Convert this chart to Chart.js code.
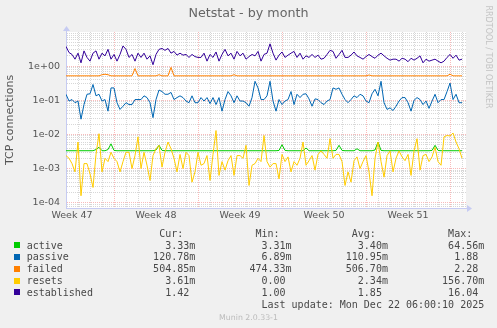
<!DOCTYPE html>
<html>
<head>
<meta charset="utf-8">
<script src="https://cdn.jsdelivr.net/npm/chart.js@4.4.1/dist/chart.umd.min.js"></script>
<style>
html,body{margin:0;padding:0;background:#f0f0f0;}
#wrap{position:relative;width:497px;height:328px;overflow:hidden;background:#f0f0f0;}
#c{position:absolute;left:0;top:0;width:497px;height:328px;}
.ov{position:absolute;white-space:pre;}
#title{left:0;top:5.4px;width:497px;text-align:center;font:12.7px/15px "DejaVu Sans",sans-serif;color:#666;}
.row{left:26.7px;font:10px/12px "DejaVu Sans Mono",monospace;color:#484848;}
.sq{position:absolute;left:14px;width:6px;height:6px;}
#ver{left:0;width:497px;text-align:center;top:312.8px;font:7.8px/9px "DejaVu Sans",sans-serif;color:#bbb;}
#rrd{left:433px;top:51.5px;width:110px;height:10px;text-align:center;font:8px/10px "DejaVu Sans",sans-serif;color:#c4c4c4;transform:rotate(90deg);}
</style>
</head>
<body>
<div id="wrap">
<canvas id="c" width="497" height="328"></canvas>
<div id="title" class="ov">Netstat - by month</div>
<div id="rrd" class="ov">RRDTOOL / TOBI OETIKER</div>
<div id="ver" class="ov">Munin 2.0.33-1</div>
</div>
<script>
// ---- data ----
const seriesNames = ['active','passive','failed','resets','established'];
const seriesColors = ['#00cc00','#0066b3','#ff8000','#ffcc00','#330099'];
const weekLabels = ['Week 47','Week 48','Week 49','Week 50','Week 51'];
const weekLabelDays = [0.5, 7.5, 14.5, 21.5, 28.5];
const weekStartDays = [4, 11, 18, 25, 32];
const xRangeDays = [0, 33.33];
const yRange = [7.29e-5, 10];
const sampleStepDays = 0.25;

const active = [
 0.00333,0.00333,0.00333,0.00333,0.00333,0.00333,0.00333,0.00333,0.00333,0.00333,
 0.0036,0.0042,0.00333,0.00333,0.0036,0.0053,0.0034,0.00333,0.00333,0.00333,
 0.00333,0.00333,0.00333,0.00333,0.00333,0.00333,0.00333,0.00333,0.00333,0.00333,
 0.0035,0.0048,0.0034,0.00333,0.00333,0.00333,0.00333,0.00333,0.00333,0.00333,
 0.00333,0.00333,0.00333,0.00333,0.00333,0.00333,0.00333,0.00333,0.00333,0.00333,
 0.00333,0.00333,0.00333,0.00333,0.00333,0.00333,0.00333,0.00333,0.00333,0.00333,
 0.00333,0.00333,0.00333,0.00333,0.00333,0.00333,0.00333,0.00333,0.00333,0.00333,
 0.00333,0.0034,0.0050,0.0034,0.00333,0.00333,0.00333,0.00333,0.00333,0.00333,
 0.0040,0.00333,0.00333,0.00333,0.00333,0.00333,0.00333,0.00333,0.00333,0.00333,
 0.0034,0.0048,0.0034,0.00333,0.00333,0.00333,0.00333,0.0038,0.00333,0.00333,
 0.00333,0.00333,0.00333,0.0035,0.0060,0.0034,0.00333,0.00333,0.00333,0.00333,
 0.00333,0.00333,0.00333,0.00333,0.00333,0.00333,0.00333,0.00333,0.00333,0.00333,
 0.00333,0.00333,0.0034,0.0048,0.0034,0.00333,0.00333,0.00333,0.00333,0.00333,
 0.00333,0.00333,0.00333
];
const passive = [
 0.15,0.095,0.105,0.085,0.095,0.028,0.075,0.15,0.155,0.29,
 0.135,0.15,0.095,0.105,0.048,0.23,0.23,0.085,0.054,0.067,
 0.085,0.075,0.075,0.105,0.105,0.105,0.135,0.12,0.085,0.031,
 0.105,0.2,0.18,0.15,0.15,0.17,0.105,0.12,0.135,0.12,
 0.095,0.085,0.135,0.085,
 0.085,0.12,0.095,0.12,0.08,0.12,0.075,0.12,0.048,0.105,
 0.18,0.135,0.085,0.135,0.095,0.095,0.085,0.067,0.12,0.36,
 0.23,0.105,0.105,0.135,0.36,0.095,0.048,0.105,0.075,0.095,
 0.105,0.18,0.075,0.15,0.12,0.15,0.155,0.11,0.067,0.11,
 0.105,0.085,0.075,0.095,0.105,
 0.23,0.21,0.23,0.15,0.105,0.085,0.105,0.135,0.12,0.15,
 0.135,0.095,0.085,0.155,0.21,0.135,0.36,0.085,0.054,0.06,
 0.05,0.067,0.095,0.12,0.12,0.085,0.048,0.1,0.12,0.105,
 0.075,0.095,0.058,0.095,0.15,0.085,0.105,0.105,0.18,0.32,
 0.105,0.15,0.085,0.085
];
const failed = [
 0.52,0.52,0.52,0.52,0.52,0.52,0.52,0.52,0.52,0.52,
 0.52,0.52,0.56,0.58,0.56,0.52,0.52,0.52,0.52,0.52,
 0.52,0.52,0.52,0.85,0.52,0.52,0.52,0.52,0.52,0.52,
 0.52,0.56,0.52,0.52,0.52,0.92,0.52,0.52,0.52,0.52,
 0.52,0.52,0.52,0.52,0.52,0.52,0.52,0.52,0.52,0.52,
 0.52,0.52,0.52,0.52,0.52,0.52,0.56,0.52,0.52,0.52,
 0.52,0.52,0.52,0.52,0.52,0.52,0.52,0.52,0.52,0.52,
 0.52,0.52,0.52,0.52,0.52,0.52,0.52,0.52,0.52,0.52,
 0.52,0.52,0.52,0.52,0.52,0.52,0.52,0.52,0.52,0.52,
 0.52,0.52,0.52,0.52,0.52,0.52,0.52,0.52,0.52,0.52,
 0.52,0.55,0.52,0.52,0.52,0.52,0.52,0.52,0.52,0.52,
 0.52,0.52,0.52,0.52,0.52,0.52,0.52,0.52,0.52,0.52,
 0.52,0.52,0.52,0.52,0.52,0.52,0.52,0.52,0.58,0.52,
 0.52,0.52,0.52
];
const resets = [
 0.0024,0.0020,0.0014,0.0008,0.0060,0.00016,0.0014,0.0014,0.0007,0.00028,
 0.0026,0.0105,0.0008,0.0020,0.0016,0.0030,0.0020,0.0016,0.0008,0.0016,
 0.0030,0.0030,0.0010,0.0024,0.0085,0.0010,0.0030,0.00125,0.00045,0.0024,
 0.0038,0.0048,0.0011,0.0030,0.0060,0.0038,0.0020,0.0008,0.0026,0.0010,
 0.0030,0.0024,0.0004,0.0008,
 0.0030,0.00125,0.0014,0.0024,0.00045,0.0026,0.013,0.00063,0.0016,0.0009,
 0.0017,0.0024,0.00063,0.0024,0.0024,0.0020,0.0048,0.00032,0.00125,0.0014,
 0.0020,0.0016,0.0093,0.0016,0.0011,0.0014,0.0014,0.0005,0.0026,0.0016,
 0.0022,0.0008,0.0016,0.00125,0.0020,0.0060,0.00125,0.0017,0.0024,0.0009,
 0.0026,0.0033,0.0026,0.0020,0.0075,
 0.0020,0.0026,0.0026,0.0016,0.00032,0.0008,0.0004,0.0017,0.0022,0.0010,
 0.0016,0.0024,0.0008,0.00016,0.0020,0.0060,0.0016,0.00056,0.0024,0.0033,
 0.0008,0.0020,0.0033,0.0022,0.0017,0.0026,0.00063,0.0033,0.0075,0.0009,
 0.0024,0.0026,0.0016,0.0022,0.0042,0.0016,0.00125,0.0085,0.0093,0.0090,
 0.011,0.0060,0.0038,0.0020
];
const established = [
 3.8,2.5,2.2,1.6,2.4,1.25,2.8,1.8,1.4,2.4,
 2.8,1.6,2.4,2.0,3.1,1.6,2.2,1.4,2.2,3.9,
 3.1,1.8,2.2,1.4,2.4,1.8,2.4,1.6,2.0,1.1,
 2.2,3.1,3.3,2.9,3.3,2.4,2.7,2.1,2.4,2.1,
 2.2,1.8,2.2,1.9,
 1.8,1.8,2.4,1.4,2.2,1.8,2.6,1.4,2.2,3.1,
 2.0,2.4,1.6,2.7,2.0,2.4,1.6,1.9,2.2,2.0,
 2.7,1.4,2.2,2.4,4.5,2.4,1.5,2.1,2.6,1.8,
 2.1,2.4,2.7,1.8,2.4,1.6,2.0,1.8,2.2,1.8,
 2.1,1.6,1.7,2.2,2.9,
 2.7,1.7,2.2,2.9,1.8,1.8,2.1,2.6,2.0,1.8,
 1.6,1.9,2.2,1.9,1.7,2.1,2.4,2.0,1.7,1.5,
 1.6,1.6,1.4,1.7,1.6,1.35,1.7,1.5,1.7,2.0,
 1.25,1.6,1.4,1.5,1.6,1.4,1.25,1.4,1.8,2.2,
 1.7,2.1,1.5,1.6
];
const curText = ['3.33m','120.78m','504.85m','3.61m','1.42 '];
const minText = ['3.31m','6.89m','474.33m','0.00 ','1.00 '];
const avgText = ['3.40m','110.95m','506.70m','2.34m','1.85 '];
const maxText = ['64.56m','1.88 ','2.28 ','156.70m','16.04 '];
const headers = ['Cur:','Min:','Avg:','Max:'];
const lastUpdate = 'Last update: Mon Dec 22 06:00:10 2025';

// ---- legend (text) ----
const wrap = document.getElementById('wrap');
const rowTop0 = 227.85, rowStep = 11.8;
function addRow(text, idx){
  const d = document.createElement('div');
  d.className = 'ov row';
  d.style.top = (rowTop0 + idx*rowStep) + 'px';
  d.textContent = text;
  wrap.appendChild(d);
  return d;
}
addRow(' '.repeat(12) + headers.map(h => (h + '  ').padStart(16)).join(''), 0);
seriesNames.forEach((n, k) => {
  addRow(n.padEnd(12) + curText[k].padStart(16) + minText[k].padStart(16) + avgText[k].padStart(16) + maxText[k].padStart(16), k + 1);
  const s = document.createElement('div');
  s.className = 'sq';
  s.style.top = (rowTop0 + (k + 1)*rowStep + 9.46 - 7) + 'px';
  s.style.background = seriesColors[k];
  wrap.appendChild(s);
});
addRow(lastUpdate.padStart(76), 6);

// ---- chart ----
const seriesValues = [active, passive, failed, resets, established];
const drawOrder = [5, 4, 3, 2, 1];
const toPoints = vals => vals.map((v, i) => ({x: i*sampleStepDays, y: v}));

const GRID_MINOR = 'rgba(160,160,160,0.42)';
const GRID_MAJOR = 'rgba(240,90,90,0.42)';
const AXIS = '#c6cbf2';

const muninDeco = {
  id: 'muninDeco',
  beforeDraw(chart){
    const a = chart.chartArea, g = chart.ctx;
    g.save(); g.fillStyle = '#ffffff';
    g.fillRect(a.left, a.top, a.right - a.left, a.bottom - a.top);
    g.restore();
  },
  afterDraw(chart){
    const a = chart.chartArea, g = chart.ctx;
    g.save(); g.fillStyle = AXIS; g.strokeStyle = AXIS; g.lineWidth = 1;
    const lx = Math.round(a.left) + 0.5, by = Math.round(a.bottom) + 0.5;
    g.beginPath(); g.moveTo(lx, a.top); g.lineTo(lx, a.top - 2); g.stroke();
    g.beginPath(); g.moveTo(lx - 3.5, a.top - 1); g.lineTo(lx + 3.5, a.top - 1); g.lineTo(lx, a.top - 6); g.closePath(); g.fill();
    g.beginPath(); g.moveTo(a.right, by); g.lineTo(a.right + 2, by); g.stroke();
    g.beginPath(); g.moveTo(a.right + 1, by - 3.5); g.lineTo(a.right + 1, by + 3.5); g.lineTo(a.right + 6, by); g.closePath(); g.fill();
    g.restore();
  }
};

const isDecade = v => { const l = Math.log10(v); return Math.abs(l - Math.round(l)) < 1e-6; };

new Chart(document.getElementById('c'), {
  type: 'line',
  data: {
    datasets: seriesNames.map((n, k) => ({
      label: n,
      data: toPoints(seriesValues[k]),
      borderColor: seriesColors[k],
      backgroundColor: seriesColors[k],
      borderWidth: 1,
      pointRadius: 0,
      tension: 0,
      fill: false,
      order: drawOrder[k]
    }))
  },
  options: {
    animation: false,
    responsive: false,
    devicePixelRatio: 1,
    layout: {padding: {left: 0, right: 31, top: 32, bottom: 0}},
    plugins: {legend: {display: false}, tooltip: {enabled: false}, title: {display: false}},
    scales: {
      x: {
        type: 'linear',
        min: xRangeDays[0], max: xRangeDays[1],
        afterFit: s => { s.height = 120; },
        afterBuildTicks: s => {
          const vals = [];
          for (let d = 1; d <= Math.floor(xRangeDays[1]); d++) vals.push(d);
          weekLabelDays.forEach(v => vals.push(v));
          vals.sort((a, b) => a - b);
          s.ticks = vals.map(v => ({value: v}));
        },
        grid: {
          drawTicks: false,
          lineWidth: 1,
          color: c => {
            const v = c.tick ? c.tick.value : null;
            if (weekLabelDays.includes(v)) return 'rgba(0,0,0,0)';
            if (weekStartDays.includes(v)) return GRID_MAJOR;
            return GRID_MINOR;
          }
        },
        border: {display: true, color: AXIS, width: 1, dash: [1, 1]},
        ticks: {
          autoSkip: false, maxRotation: 0, minRotation: 0, padding: 2,
          color: '#555', font: {family: 'DejaVu Sans', size: 9.5},
          callback: v => { const k = weekLabelDays.indexOf(v); return k >= 0 ? weekLabels[k] : ''; }
        }
      },
      y: {
        type: 'logarithmic',
        min: yRange[0], max: yRange[1],
        afterFit: s => { s.width = 66; },
        afterBuildTicks: s => {
          const vals = [];
          for (let e = -5; e <= 1; e++) for (let m = 1; m <= 9; m++) {
            const v = Number((m * Math.pow(10, e)).toPrecision(3));
            if (v >= yRange[0] && v < yRange[1] * 0.999) vals.push(v);
          }
          s.ticks = vals.map(v => ({value: v}));
        },
        grid: {
          drawTicks: false,
          lineWidth: 1,
          color: c => (c.tick && isDecade(c.tick.value)) ? GRID_MAJOR : GRID_MINOR
        },
        border: {display: true, color: AXIS, width: 1, dash: [1, 1]},
        title: {display: true, text: 'TCP connections', color: '#555', font: {family: 'DejaVu Sans', size: 11}, padding: {top: 4, bottom: 0}},
        ticks: {
          autoSkip: false, padding: 6,
          color: '#555', font: {family: 'DejaVu Sans', size: 9.5},
          callback: v => {
            if (!isDecade(v)) return '';
            const e = Math.round(Math.log10(v));
            return '1e' + (e < 0 ? '-' : '+') + String(Math.abs(e)).padStart(2, '0');
          }
        }
      }
    }
  },
  plugins: [muninDeco]
});
</script>
</body>
</html>
